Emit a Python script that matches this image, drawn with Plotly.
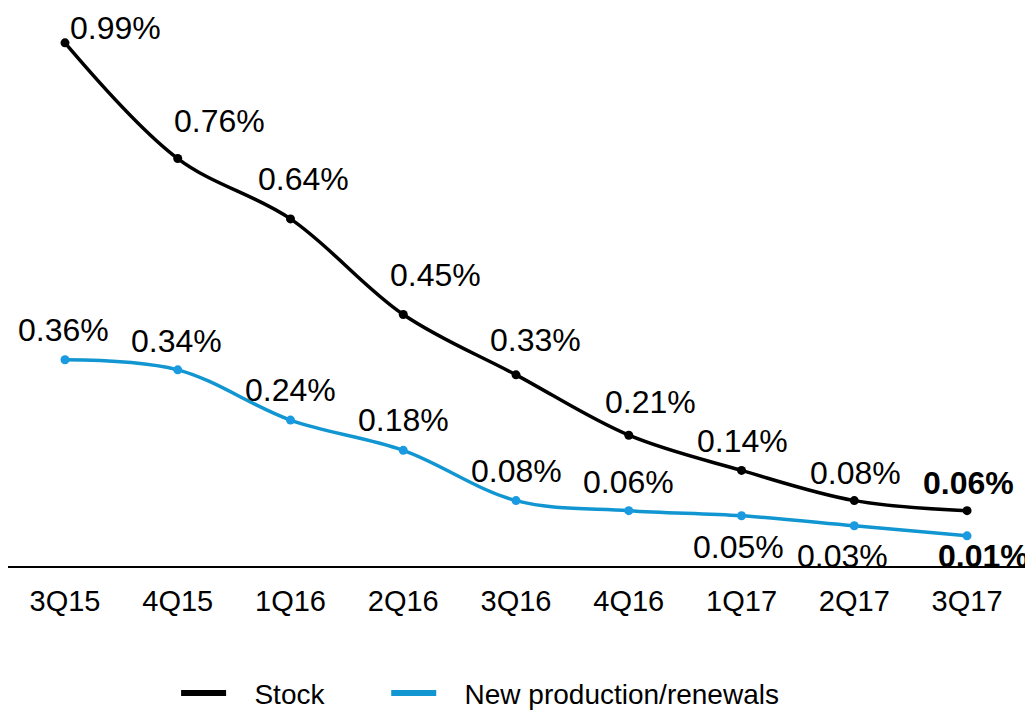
import plotly.graph_objects as go

quarters = ["3Q15", "4Q15", "1Q16", "2Q16", "3Q16", "4Q16", "1Q17", "2Q17", "3Q17"]
stock = [0.99, 0.76, 0.64, 0.45, 0.33, 0.21, 0.14, 0.08, 0.06]
new_production = [0.36, 0.34, 0.24, 0.18, 0.08, 0.06, 0.05, 0.03, 0.01]
series_names = ["Stock", "New production/renewals"]

# label offsets in pixels (style only)
stock_off = [(50, 15), (42, 38), (13, 40), (32, 39), (19, 35), (22, 33), (1, 29), (1, 28), (1, 28)]
new_off = [(-2, 30), (-1, 29), (0, 30), (0, 30), (0, 30), (0, 29), (-3, -31), (-12, -30), (16, -20)]

BLACK = "#000000"
BLUE_LINE = "#1196d1"
BLUE_MARK = "#1a9ae0"
FONT = "Liberation Sans, Arial, sans-serif"

fig = go.Figure()
for vals, lc, mc in [(stock, BLACK, BLACK), (new_production, BLUE_LINE, BLUE_MARK)]:
    fig.add_trace(go.Scatter(
        x=quarters, y=vals, mode="lines+markers",
        line=dict(color=lc, width=3.5, shape="spline", smoothing=1.0),
        marker=dict(color=mc, size=9),
        showlegend=False, cliponaxis=False, hoverinfo="x+y",
    ))
# legend entries (thicker line swatches), one legend each
PAD = "\u00a0\u00a0\u00a0"
for name, color, leg in zip(series_names, [BLACK, BLUE_LINE], ["legend", "legend2"]):
    fig.add_trace(go.Scatter(
        x=[quarters[0]], y=[None], mode="lines", name=PAD + name,
        line=dict(color=color, width=6), showlegend=True, legend=leg,
    ))

annotations = []
for vals, offs in [(stock, stock_off), (new_production, new_off)]:
    last = len(vals) - 1
    for i, (q, v) in enumerate(zip(quarters, vals)):
        txt = f"{v:.2f}%"
        if i == last:
            txt = f"<b>{txt}</b>"
        annotations.append(dict(
            x=q, y=v, xref="x", yref="y", text=txt, showarrow=False,
            xshift=offs[i][0], yshift=offs[i][1],
            font=dict(family=FONT, size=32, color="#000000"),
        ))

legend_common = dict(
    orientation="h", xanchor="left", yanchor="middle",
    xref="container", yref="container",
    font=dict(family=FONT, size=28, color="#000000"),
    bgcolor="rgba(0,0,0,0)", itemwidth=45,
)

# page body has an 8px margin, so the figure is sized to fit the window
fig.update_layout(
    width=1025, height=703,
    margin=dict(l=0, r=0, t=0, b=145),
    paper_bgcolor="white", plot_bgcolor="white",
    font=dict(family=FONT, color="#000000"),
    annotations=annotations,
    showlegend=True,
    legend=dict(x=0.164, y=0.025, **legend_common),
    legend2=dict(x=0.369, y=0.025, **legend_common),
    xaxis=dict(
        type="category", range=[-0.5055, 8.585],
        showline=True, linecolor="#000000", linewidth=1.5,
        showgrid=False, zeroline=False, ticks="",
        tickfont=dict(family=FONT, size=29, color="#000000"),
        ticklabelstandoff=8, automargin=False,
    ),
    yaxis=dict(
        range=[-0.05, 1.0593], visible=False, showgrid=False, zeroline=False,
        automargin=False,
    ),
)

fig.write_html("out.html")
